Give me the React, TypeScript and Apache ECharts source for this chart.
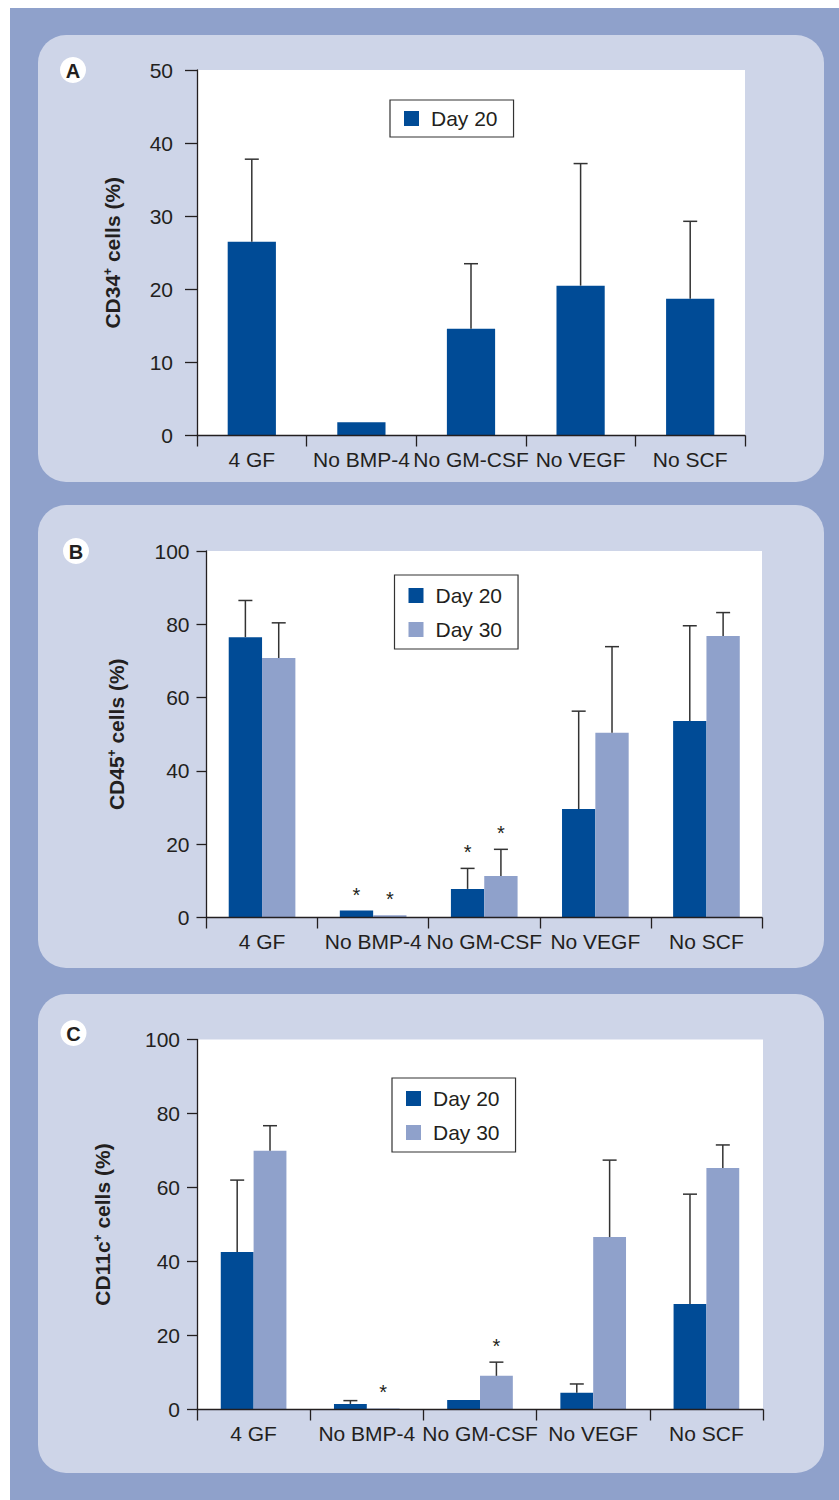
import React, { useEffect, useRef } from "react";
import * as echarts from "echarts";

const categories = ["4 GF", "No BMP-4", "No GM-CSF", "No VEGF", "No SCF"];

const cd34Day20 = [26.5, 1.8, 14.6, 20.5, 18.7];
const cd34Day20Err = [37.8, null, 23.5, 37.2, 29.3];

const cd45Day20 = [76.5, 1.9, 7.8, 29.6, 53.6];
const cd45Day20Err = [86.5, null, 13.4, 56.3, 79.6];
const cd45Day20Sig = [false, true, true, false, false];
const cd45Day30 = [70.8, 0.6, 11.3, 50.4, 76.8];
const cd45Day30Err = [80.4, null, 18.6, 73.9, 83.2];
const cd45Day30Sig = [false, true, true, false, false];

const cd11cDay20 = [42.6, 1.5, 2.6, 4.5, 28.5];
const cd11cDay20Err = [62.0, 2.4, null, 6.9, 58.2];
const cd11cDay20Sig = [false, false, false, false, false];
const cd11cDay30 = [69.9, 0.3, 9.1, 46.6, 65.3];
const cd11cDay30Err = [76.7, null, 12.8, 67.4, 71.5];
const cd11cDay30Sig = [false, true, true, false, false];

const yTitles = ["CD34", "CD45", "CD11c"];
const panelLetters = ["A", "B", "C"];

const FONT = "'Liberation Sans', Arial, Helvetica, sans-serif";
const TXT = "#231f20";
const DARK = "#004b96";
const LIGHT = "#8fa1cb";
const OUTER = "#8fa1cb";
const PANEL = "#ced5e8";
const FS = 21;

function errSeries(
  gridIdx: number,
  values: number[],
  errs: (number | null)[],
  sigs: boolean[] | null,
  offsetFrac: number
) {
  const data = values.map((v, i) => [i, v, errs[i] == null ? -1 : errs[i], sigs && sigs[i] ? 1 : 0]);
  return {
    type: "custom",
    xAxisIndex: gridIdx,
    yAxisIndex: gridIdx,
    z: 5,
    silent: true,
    encode: { x: 0, y: 1 },
    data,
    renderItem: (params: any, api: any) => {
      const i = api.value(0);
      const v = api.value(1);
      const e = api.value(2);
      const s = api.value(3);
      const band = api.size([1, 0])[0];
      const base = api.coord([i, v]);
      const x = base[0] + offsetFrac * band;
      let topY = base[1];
      const children: any[] = [];
      if (e >= 0) {
        const t = api.coord([i, e])[1];
        topY = t;
        children.push({
          type: "line",
          shape: { x1: x, y1: base[1], x2: x, y2: t },
          style: { stroke: "#333", lineWidth: 1.5 },
        });
        children.push({
          type: "line",
          shape: { x1: x - 7, y1: t, x2: x + 7, y2: t },
          style: { stroke: "#333", lineWidth: 1.5 },
        });
      }
      if (s) {
        children.push({
          type: "text",
          style: {
            text: "*",
            x,
            y: topY - 16,
            align: "center",
            verticalAlign: "middle",
            fontSize: 20,
            fontFamily: FONT,
            fill: TXT,
          },
        });
      }
      return { type: "group", children };
    },
  };
}

export default function App() {
  const ref = useRef<HTMLDivElement>(null);
  useEffect(() => {
    if (!ref.current) return;
    const chart = echarts.init(ref.current, undefined, { renderer: "svg" });

    const grids = [
      { left: 197, top: 70, width: 548, height: 365.5 },
      { left: 206.5, top: 551, width: 555.5, height: 366.5 },
      { left: 197, top: 1039.5, width: 566, height: 370 },
    ].map((g) => ({ ...g, show: true, backgroundColor: "#fff", borderWidth: 0, z: 1 }));

    const yMax = [50, 100, 100];
    const yInt = [10, 20, 20];
    const yTick = [12, 10, 10];
    const yMargin = [24, 17, 17];
    const nameGap = [74, 80, 84];

    const xAxis = [0, 1, 2].map((g) => ({
      type: "category",
      gridIndex: g,
      data: categories,
      axisLine: { show: true, lineStyle: { color: TXT, width: 1.3 } },
      axisTick: { show: true, length: 11, lineStyle: { color: TXT, width: 1.3 } },
      axisLabel: { interval: 0, margin: 13, fontSize: FS, color: TXT, fontFamily: FONT },
      splitLine: { show: false },
      z: 3,
    }));

    const yAxis = [0, 1, 2].map((g) => ({
      type: "value",
      gridIndex: g,
      min: 0,
      max: yMax[g],
      interval: yInt[g],
      axisLine: { show: true, lineStyle: { color: TXT, width: 1.3 } },
      axisTick: { show: true, length: yTick[g], lineStyle: { color: TXT, width: 1.3 } },
      axisLabel: { margin: yMargin[g], fontSize: FS, color: TXT, fontFamily: FONT },
      splitLine: { show: false },
      name: `{b|${yTitles[g]}}{s|+}{b| cells (%)}`,
      nameLocation: "middle",
      nameGap: nameGap[g],
      nameTextStyle: {
        rich: {
          b: { fontSize: 21, fontWeight: "bold", fontFamily: FONT, color: TXT },
          s: { fontSize: 12, fontWeight: "bold", fontFamily: FONT, color: TXT, verticalAlign: "top", padding: [0, 0, 6, 0] },
        },
      },
      z: 3,
    }));

    const barBase = { type: "bar", barGap: "0%", silent: true, z: 2 };
    const series: any[] = [
      { ...barBase, name: "Day 20", xAxisIndex: 0, yAxisIndex: 0, data: cd34Day20, barWidth: "44%", itemStyle: { color: DARK } },
      errSeries(0, cd34Day20, cd34Day20Err, null, 0),
      { ...barBase, name: "Day 20", xAxisIndex: 1, yAxisIndex: 1, data: cd45Day20, barWidth: "30%", itemStyle: { color: DARK } },
      { ...barBase, name: "Day 30", xAxisIndex: 1, yAxisIndex: 1, data: cd45Day30, barWidth: "30%", itemStyle: { color: LIGHT } },
      errSeries(1, cd45Day20, cd45Day20Err, cd45Day20Sig, -0.15),
      errSeries(1, cd45Day30, cd45Day30Err, cd45Day30Sig, 0.15),
      { ...barBase, name: "Day 20", xAxisIndex: 2, yAxisIndex: 2, data: cd11cDay20, barWidth: "29%", itemStyle: { color: DARK } },
      { ...barBase, name: "Day 30", xAxisIndex: 2, yAxisIndex: 2, data: cd11cDay30, barWidth: "29%", itemStyle: { color: LIGHT } },
      errSeries(2, cd11cDay20, cd11cDay20Err, cd11cDay20Sig, -0.145),
      errSeries(2, cd11cDay30, cd11cDay30Err, cd11cDay30Sig, 0.145),
    ];

    const legendBase = {
      orient: "vertical",
      icon: "rect",
      itemWidth: 15,
      itemHeight: 15,
      itemGap: 13,
      backgroundColor: "#fff",
      borderColor: "#333",
      borderWidth: 1.2,
      selectedMode: false,
      textStyle: { fontSize: FS, color: TXT, fontFamily: FONT, lineHeight: 21, padding: [0, 0, 0, 7] },
    };
    const legend = [
      { ...legendBase, left: 390, top: 100, padding: [8, 16, 8, 14], data: ["Day 20"] },
      { ...legendBase, left: 394.5, top: 575, padding: [10, 16, 9, 14], data: ["Day 20", "Day 30"] },
      { ...legendBase, left: 392, top: 1078, padding: [10, 16, 9, 14], data: ["Day 20", "Day 30"] },
    ];

    const panels = [
      { y: 35, h: 447, cx: 73, cy: 70 },
      { y: 505, h: 463, cx: 76, cy: 551 },
      { y: 994, h: 479, cx: 73.5, cy: 1033 },
    ];
    const graphic: any[] = [
      { type: "rect", z: -100, shape: { x: 10, y: 8, width: 829, height: 1492 }, style: { fill: OUTER } },
    ];
    panels.forEach((p, k) => {
      graphic.push({ type: "rect", z: -99, shape: { x: 38, y: p.y, width: 786, height: p.h, r: 28 }, style: { fill: PANEL } });
      graphic.push({ type: "circle", z: 10, shape: { cx: p.cx, cy: p.cy, r: 13 }, style: { fill: "#fff" } });
      graphic.push({
        type: "text",
        z: 11,
        x: p.cx,
        y: p.cy + 1,
        style: { text: panelLetters[k], align: "center", verticalAlign: "middle", fontSize: 20, fontWeight: "bold", fontFamily: FONT, fill: TXT },
      });
    });

    chart.setOption({
      animation: false,
      grid: grids,
      xAxis,
      yAxis,
      legend,
      series,
      graphic,
    });
    return () => chart.dispose();
  }, []);
  return <div ref={ref} style={{ position: "absolute", left: 0, top: 0, width: 839, height: 1500 }} />;
}
